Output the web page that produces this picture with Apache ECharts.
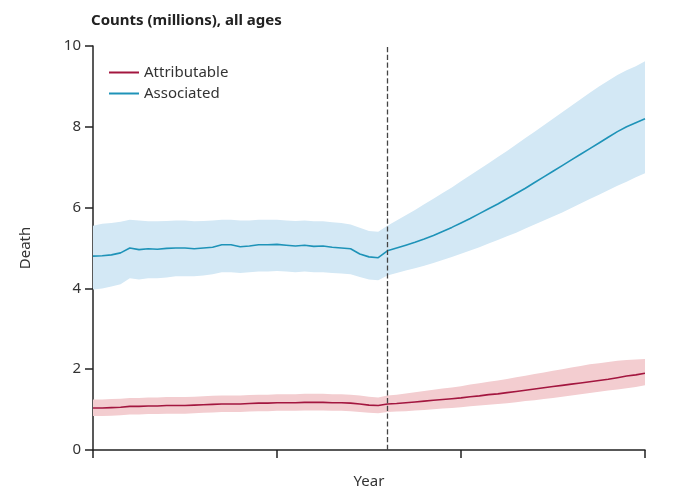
<!DOCTYPE html>
<html><head><meta charset="utf-8">
<script src="https://cdn.jsdelivr.net/npm/echarts@6/dist/echarts.min.js"></script>
</head><body style="margin:0">
<div id="chart" style="width:680px;height:494px;"></div>
<script>
var years = [];
for (var y = 1990; y <= 2050; y++) years.push(String(y));
var assoc = [4.80,4.81,4.83,4.88,5.00,4.96,4.98,4.97,4.99,5.00,5.00,4.98,5.00,5.02,5.08,5.08,5.03,5.05,5.08,5.08,5.09,5.07,5.05,5.07,5.04,5.05,5.02,5.00,4.98,4.85,4.78,4.76,
  4.93,5.00,5.07,5.14,5.22,5.31,5.41,5.51,5.62,5.73,5.85,5.97,6.09,6.22,6.35,6.48,6.62,6.76,6.90,7.04,7.18,7.32,7.46,7.60,7.74,7.88,8.00,8.10,8.20];
var assocHi = [5.55,5.60,5.62,5.65,5.70,5.68,5.66,5.66,5.67,5.68,5.68,5.66,5.67,5.68,5.70,5.70,5.68,5.68,5.70,5.70,5.70,5.68,5.67,5.68,5.66,5.66,5.64,5.62,5.58,5.50,5.42,5.40,
  5.55,5.68,5.81,5.94,6.08,6.22,6.36,6.50,6.65,6.80,6.95,7.10,7.25,7.40,7.56,7.72,7.88,8.04,8.20,8.36,8.52,8.68,8.84,9.00,9.14,9.28,9.40,9.50,9.62];
var assocLo = [3.97,4.00,4.05,4.10,4.25,4.22,4.25,4.25,4.27,4.30,4.30,4.30,4.32,4.35,4.40,4.40,4.38,4.40,4.42,4.42,4.43,4.42,4.40,4.42,4.40,4.40,4.38,4.37,4.35,4.28,4.22,4.20,
  4.32,4.38,4.44,4.50,4.56,4.63,4.70,4.78,4.86,4.94,5.02,5.11,5.20,5.29,5.38,5.48,5.58,5.68,5.78,5.88,5.99,6.10,6.21,6.32,6.43,6.54,6.64,6.75,6.85];
var attr = [1.04,1.04,1.05,1.06,1.08,1.08,1.09,1.09,1.10,1.10,1.10,1.11,1.12,1.13,1.14,1.14,1.14,1.15,1.16,1.16,1.17,1.17,1.17,1.18,1.18,1.18,1.17,1.17,1.16,1.14,1.11,1.10,
  1.14,1.15,1.17,1.19,1.21,1.23,1.25,1.27,1.29,1.32,1.34,1.37,1.39,1.42,1.45,1.48,1.51,1.54,1.57,1.60,1.63,1.66,1.69,1.72,1.75,1.79,1.83,1.86,1.90];
var attrHi = [1.25,1.25,1.26,1.27,1.29,1.29,1.30,1.30,1.31,1.31,1.31,1.32,1.33,1.34,1.35,1.35,1.35,1.36,1.37,1.37,1.38,1.38,1.38,1.39,1.39,1.39,1.38,1.38,1.37,1.35,1.32,1.30,
  1.35,1.37,1.40,1.43,1.46,1.49,1.52,1.55,1.58,1.62,1.65,1.69,1.72,1.76,1.80,1.84,1.88,1.92,1.96,2.00,2.04,2.08,2.12,2.15,2.18,2.21,2.23,2.24,2.25];
var attrLo = [0.84,0.84,0.85,0.86,0.88,0.88,0.89,0.89,0.90,0.90,0.90,0.91,0.92,0.93,0.94,0.94,0.94,0.95,0.96,0.96,0.97,0.97,0.97,0.98,0.98,0.98,0.97,0.97,0.96,0.94,0.92,0.91,
  0.94,0.95,0.96,0.98,0.99,1.01,1.03,1.04,1.06,1.08,1.10,1.12,1.14,1.16,1.18,1.21,1.23,1.26,1.29,1.32,1.35,1.38,1.41,1.44,1.47,1.50,1.53,1.56,1.60];

function diff(h,l){ return h.map(function(v,i){ return +(v-l[i]).toFixed(3); }); }

var chart = echarts.init(document.getElementById('chart'));
var font = 'Noto Sans';
chart.setOption({
  animation: false,
  textStyle: {fontFamily: font},
  title: {text: 'Counts (millions), all ages', left: 86, top: 8,
    textStyle: {fontSize: 15, fontWeight: 'bold', color: '#222', fontFamily: font}},
  legend: {left: 104, top: 60, orient: 'vertical', itemGap: 6, itemWidth: 30, itemHeight: 2,
    icon: 'rect', data: ['Attributable', 'Associated'],
    textStyle: {fontSize: 15, color: '#333'}},
  grid: {left: 93, right: 35, top: 46, bottom: 43},
  xAxis: {type: 'category', data: years, boundaryGap: false, name: 'Year',
    nameLocation: 'middle', nameGap: 24, nameTextStyle: {fontSize: 15, color: '#333'},
    axisLine: {lineStyle: {color: '#222', width: 1.5}},
    axisTick: {length: 8, interval: function(i){ return i % 20 === 0; }, lineStyle: {color: '#222', width: 1.5}},
    axisLabel: {show: false}, splitLine: {show: false}},
  yAxis: {type: 'value', min: 0, max: 10, interval: 2, name: 'Death',
    nameLocation: 'middle', nameGap: 60, nameTextStyle: {fontSize: 15, color: '#333'},
    axisLine: {show: true, lineStyle: {color: '#222', width: 1.5}},
    axisTick: {show: true, length: 8, lineStyle: {color: '#222', width: 1.5}},
    axisLabel: {fontSize: 15, color: '#333', margin: 12}, splitLine: {show: false}},
  series: [
    {type: 'line', stack: 'as', data: assocLo, symbol: 'none', lineStyle: {opacity: 0}, silent: true},
    {type: 'line', stack: 'as', data: diff(assocHi, assocLo), symbol: 'none', lineStyle: {opacity: 0},
      areaStyle: {color: '#d3e8f5', opacity: 1}, silent: true},
    {type: 'line', stack: 'at', data: attrLo, symbol: 'none', lineStyle: {opacity: 0}, silent: true},
    {type: 'line', stack: 'at', data: diff(attrHi, attrLo), symbol: 'none', lineStyle: {opacity: 0},
      areaStyle: {color: '#f3cdd0', opacity: 1}, silent: true},
    {name: 'Associated', type: 'line', data: assoc, symbol: 'none', color: '#1e93b8',
      lineStyle: {width: 1.6, color: '#1e93b8'},
      markLine: {silent: true, symbol: 'none', label: {show: false},
        lineStyle: {type: 'dashed', color: '#444', width: 1.3}, data: [{xAxis: '2022'}]}},
    {name: 'Attributable', type: 'line', data: attr, symbol: 'none', color: '#a3163f',
      lineStyle: {width: 1.6, color: '#a3163f'}}
  ]
});
</script>
</body></html>
